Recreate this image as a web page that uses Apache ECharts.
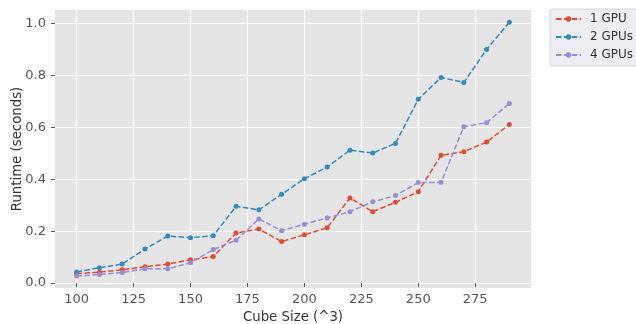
<!DOCTYPE html>
<html>
<head>
<meta charset="utf-8">
<script src="https://cdn.jsdelivr.net/npm/echarts@6/dist/echarts.min.js"></script>
<style>html,body{margin:0;padding:0;background:#fff;}#c{width:636px;height:324px;}</style>
</head>
<body>
<div id="c"></div>
<script>
const cubeSizes = [100,110,120,130,140,150,160,170,180,190,200,210,220,230,240,250,260,270,280,290];
const gpu1 = [0.036,0.042,0.051,0.063,0.073,0.090,0.102,0.193,0.208,0.160,0.186,0.213,0.328,0.275,0.311,0.352,0.492,0.506,0.543,0.611];
const gpu2 = [0.043,0.059,0.073,0.131,0.181,0.175,0.182,0.296,0.282,0.342,0.402,0.447,0.512,0.501,0.538,0.708,0.792,0.773,0.900,1.005];
const gpu4 = [0.027,0.033,0.041,0.055,0.055,0.078,0.129,0.165,0.247,0.202,0.227,0.251,0.275,0.313,0.337,0.387,0.388,0.602,0.618,0.692];
const seriesNames = ['1 GPU','2 GPUs','4 GPUs'];
const xTicks = [100,125,150,175,200,225,250,275];
const yTicks = [0,0.2,0.4,0.6,0.8,1.0];

const colors = ['#E24A33','#348ABD','#988ED5'];
const font = 'DejaVu Sans';
function pairs(vals){ return cubeSizes.map((x,i)=>[x,vals[i]]); }
const chart = echarts.init(document.getElementById('c'), null, {renderer:'canvas'});
const mk = (name, vals, color) => ({
  name, type:'line', data: pairs(vals), symbol:'circle', symbolSize:5,
  itemStyle:{color},
  lineStyle:{color, width:1.5, type:[5.5,2.4]},
  animation:false
});
chart.setOption({
  animation:false,
  textStyle:{fontFamily:font},
  grid:{left:55,right:105,top:10,bottom:36,show:true,backgroundColor:'#E5E5E5',borderWidth:0,
        containLabel:false, outerBoundsMode:'none'},
  legend:{
    orient:'vertical', left:550, top:9,
    backgroundColor:'#EEEEF2', borderColor:'#D5D5DA', borderWidth:1, borderRadius:3,
    padding:[3,6,4,5], itemWidth:25, itemHeight:7, itemGap:4,
    textStyle:{fontFamily:font,fontSize:12,color:'#333',padding:[0,0,0,4],lineHeight:14},
    data: seriesNames
  },
  xAxis:{
    type:'value', min:90.5, max:299.5,
    name:'Cube Size (^3)', nameLocation:'middle', nameGap:23, nameMoveOverlap:false,
    nameTextStyle:{fontFamily:font,fontSize:13.3,color:'#333'},
    axisLine:{show:false},
    axisTick:{show:true,length:4,lineStyle:{color:'#555'},customValues:xTicks},
    axisLabel:{fontFamily:font,fontSize:13,color:'#555',margin:5,customValues:xTicks},
    splitLine:{show:true,lineStyle:{color:'#ffffff',width:1}}
  },
  yAxis:{
    type:'value', min:-0.019, max:1.052,
    name:'Runtime (seconds)', nameLocation:'middle', nameGap:31, nameMoveOverlap:false,
    nameTextStyle:{fontFamily:font,fontSize:13.3,color:'#333'},
    axisLine:{show:false},
    axisTick:{show:true,length:4,lineStyle:{color:'#555'},customValues:yTicks},
    axisLabel:{fontFamily:font,fontSize:13,color:'#555',margin:9,customValues:yTicks,formatter:v=>v.toFixed(1)},
    splitLine:{show:true,lineStyle:{color:'#ffffff',width:1}}
  },
  series:[mk(seriesNames[0],gpu1,colors[0]),mk(seriesNames[1],gpu2,colors[1]),mk(seriesNames[2],gpu4,colors[2])]
});
</script>
</body>
</html>
